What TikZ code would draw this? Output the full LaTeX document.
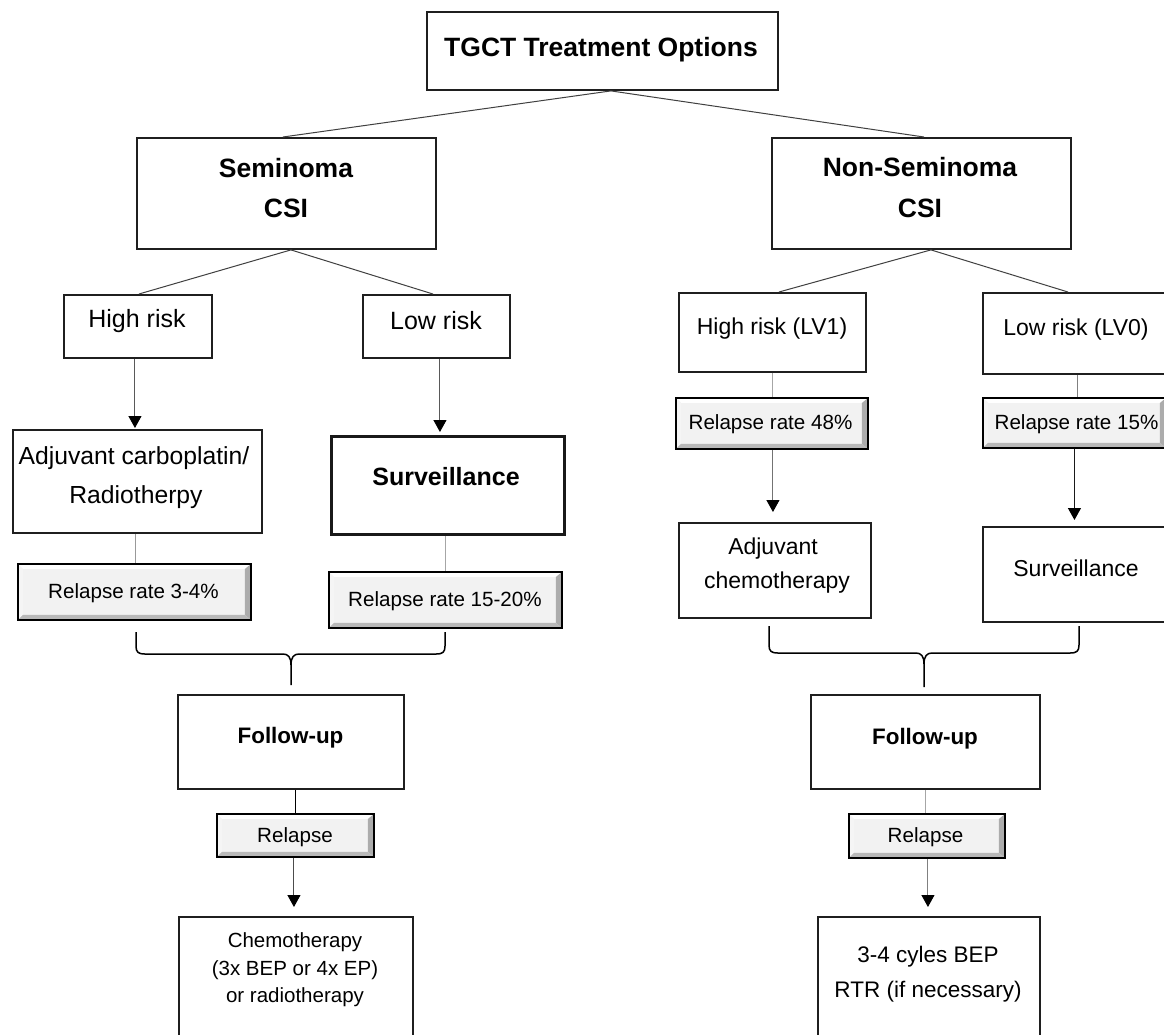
\documentclass[tikz,border=0pt]{standalone}
\usepackage{fontspec}
\setmainfont{Liberation Sans}
\usetikzlibrary{arrows.meta}
\newcommand\mkbox[6]{\node[#6, anchor=north west, minimum width={(#4)-(#2)}, minimum height={(#5)-(#3)}] (#1) at (#2,#3) {};}
\tikzset{
  box/.style={draw=black!88, line width=1.9pt, fill=white, inner sep=0pt},
  thickbox/.style={box, draw=black!90, line width=3.2pt},
  bevel/.style={draw=black, line width=1.9pt, fill=gray!10, inner sep=0pt,
    path picture={
      \fill[white] (path picture bounding box.north west) -- (path picture bounding box.north east)
        -- ([shift={(-5pt,-5pt)}]path picture bounding box.north east)
        -- ([shift={(5pt,-5pt)}]path picture bounding box.north west) -- cycle;
      \fill[white!92!gray] (path picture bounding box.north west) -- (path picture bounding box.south west)
        -- ([shift={(5pt,5pt)}]path picture bounding box.south west)
        -- ([shift={(5pt,-5pt)}]path picture bounding box.north west) -- cycle;
      \fill[gray!65] (path picture bounding box.north east) -- (path picture bounding box.south east)
        -- ([shift={(-6pt,5pt)}]path picture bounding box.south east)
        -- ([shift={(-6pt,-5pt)}]path picture bounding box.north east) -- cycle;
      \fill[gray!55] (path picture bounding box.south west) -- (path picture bounding box.south east)
        -- ([shift={(-6pt,5pt)}]path picture bounding box.south east)
        -- ([shift={(5pt,5pt)}]path picture bounding box.south west) -- cycle;
    }},
  tx/.style={anchor=base, inner sep=0pt, outer sep=0pt},
  fB/.style={tx, font=\fontsize{#1}{#1}\selectfont\bfseries},
  fR/.style={tx, font=\fontsize{#1}{#1}\selectfont},
  conn/.style={line width=1pt},
  arr/.style={conn, -{Triangle[width=13pt,length=12pt,color=black]}},
  bracepath/.style={line width=1.5pt, draw=black, line join=round}
}
\begin{document}
\begin{tikzpicture}[x=1pt,y=-1pt]
\fill[white] (0,0) rectangle (1164,1034);
\useasboundingbox (0,0) rectangle (1164,1034);

% boxes
\mkbox{title}{426}{11}{777}{89}{box}
\mkbox{sem}{136}{137}{435}{248}{box}
\mkbox{nsem}{771}{137}{1070}{248}{box}
\mkbox{hr}{63}{294}{211}{357}{box}
\mkbox{lr}{362}{294}{509}{357}{box}
\mkbox{hrl}{678}{292}{865}{371}{box}
\mkbox{lrl}{982}{292}{1172}{373}{box}
\mkbox{adj}{12}{429}{261}{532}{box}
\mkbox{surv}{330}{435}{563}{533}{thickbox}
\mkbox{rA}{17}{563}{250}{619}{bevel}
\mkbox{rB}{328}{571}{561}{627}{bevel}
\mkbox{rC}{675}{397}{867}{448}{bevel}
\mkbox{rD}{982}{397}{1165}{447}{bevel}
\mkbox{adjc}{678}{522}{870}{617}{box}
\mkbox{survR}{982}{526}{1172}{621}{box}
\mkbox{fuL}{177}{694}{403}{788}{box}
\mkbox{fuR}{810}{694}{1039}{788}{box}
\mkbox{relL}{216}{813}{373}{856}{bevel}
\mkbox{relR}{848}{813}{1004}{857}{bevel}
\mkbox{chemo}{178}{916}{412}{1045}{box}
\mkbox{bep}{817}{916}{1039}{1045}{box}

% tree connectors
\draw[conn, draw=black!75] ([xshift=8.5pt]title.south) -- ([xshift=-3.5pt]sem.north);
\draw[conn, draw=black!75] ([xshift=8.5pt]title.south) -- ([xshift=2.5pt]nsem.north);
\draw[conn, draw=black!75] ([xshift=4.5pt]sem.south) -- ([xshift=1pt]hr.north);
\draw[conn, draw=black!75] ([xshift=4.5pt]sem.south) -- ([xshift=-3.5pt]lr.north);
\draw[conn, draw=black!75] ([xshift=9.5pt]nsem.south) -- ([xshift=6.5pt]hrl.north);
\draw[conn, draw=black!75] ([xshift=9.5pt]nsem.south) -- ([xshift=-10pt]lrl.north);

% vertical connectors
\draw[arr, draw=black!65, shorten >=1pt] ([xshift=-3pt]hr.south) -- ([xshift=-3pt]hr.south |- adj.north);
\draw[arr, draw=black!65, shorten >=3pt] ([xshift=3.5pt]lr.south) -- ([xshift=3.5pt]lr.south |- surv.north);
\draw[conn, draw=black!40] ([xshift=-2pt]adj.south) -- ([xshift=-2pt]adj.south |- rA.north);
\draw[conn, draw=black!35] ([xshift=-2.5pt]surv.south) -- ([xshift=-2.5pt]surv.south |- rB.north);
\draw[conn, draw=black!35] (hrl.south) -- (hrl.south |- rC.north);
\draw[arr, draw=black!55, shorten >=10pt] ([xshift=1pt]rC.south) -- ([xshift=1pt]rC.south |- adjc.north);
\draw[conn, draw=black!50] (lrl.south) -- (lrl.south |- rD.north);
\draw[arr, draw=black!90, shorten >=6pt] (rD.south) -- (rD.south |- survR.north);
\draw[conn, draw=black] ([xshift=5pt]fuL.south) -- ([xshift=5pt]fuL.south |- relL.north);
\draw[arr, draw=black!70, shorten >=9pt] ([xshift=-1.5pt]relL.south) -- ([xshift=-1.5pt]relL.south |- chemo.north);
\draw[conn, draw=black!35] ([xshift=0.5pt]fuR.south) -- ([xshift=0.5pt]fuR.south |- relR.north);
\draw[arr, draw=black!50, shorten >=9pt] ([xshift=1pt]relR.south) -- ([xshift=1pt]relR.south |- bep.north);

% braces
\draw[bracepath] (136,632) -- (136,646) .. controls (136,652) and (138,654) .. (145,654) -- (283,654)
  .. controls (288,654) and (291,657) .. (291,665) -- (291,685);
\draw[bracepath] (445,632) -- (445,646) .. controls (445,652) and (443,654) .. (436,654) -- (299,654)
  .. controls (294,654) and (291,657) .. (291,665);
\draw[bracepath] (769,626) -- (769,645) .. controls (769,651) and (771,653) .. (778,653) -- (916,653)
  .. controls (921,653) and (924,656) .. (924,664) -- (924,687);
\draw[bracepath] (1079,626) -- (1079,645) .. controls (1079,651) and (1077,653) .. (1070,653) -- (932,653)
  .. controls (927,653) and (924,656) .. (924,664);

% texts
\node[fB=26.5] (tTitle) at (601,56) {TGCT Treatment Options};
\node[fB=26.5] (tSem1) at (286,177) {Seminoma};
\node[fB=26.5] (tSem2) at (286,217) {CSI};
\node[fB=26.5] (tNs1) at (920,176) {Non-Seminoma};
\node[fB=26.5] (tNs2) at (920,217) {CSI};
\node[fR=25] (tHr) at (137,327) {High risk};
\node[fR=25] (tLr) at (436,329) {Low risk};
\node[fR=23] (tHrl) at (772,334) {High risk (LV1)};
\node[fR=23] (tLrl) at (1076,335) {Low risk (LV0)};
\node[fR=24.7] (tAdj1) at (134,464) {Adjuvant carboplatin/};
\node[fR=24.7] (tAdj2) at (136,503) {Radiotherpy};
\node[fB=25] (tSurv) at (446,485) {Surveillance};
\node[fR=20.6] (tRA) at (133.5,598) {Relapse rate 3-4\%};
\node[fR=20.6] (tRB) at (445,606) {Relapse rate 15-20\%};
\node[fR=20.6] (tRC) at (770.5,429) {Relapse rate 48\%};
\node[fR=20.6] (tRD) at (1076.5,429) {Relapse rate 15\%};
\node[fR=23] (tAdjc1) at (773,554) {Adjuvant};
\node[fR=23] (tAdjc2) at (777,588) {chemotherapy};
\node[fR=23] (tSurvR) at (1076,576) {Surveillance};
\node[fB=22.4] (tFuL) at (290.5,743) {Follow-up};
\node[fB=22.4] (tFuR) at (925,744) {Follow-up};
\node[fR=20.6] (tRelL) at (295,842) {Relapse};
\node[fR=20.6] (tRelR) at (925.5,842) {Relapse};
\node[fR=20.5] (tCh1) at (295,947) {Chemotherapy};
\node[fR=20.5] (tCh2) at (295,975) {(3x BEP or 4x EP)};
\node[fR=20.5] (tCh3) at (295,1002) {or radiotherapy};
\node[fR=22.5] (tBep1) at (928,962) {3-4 cyles BEP};
\node[fR=22.5] (tBep2) at (928,997) {RTR (if necessary)};
\end{tikzpicture}
\end{document}
